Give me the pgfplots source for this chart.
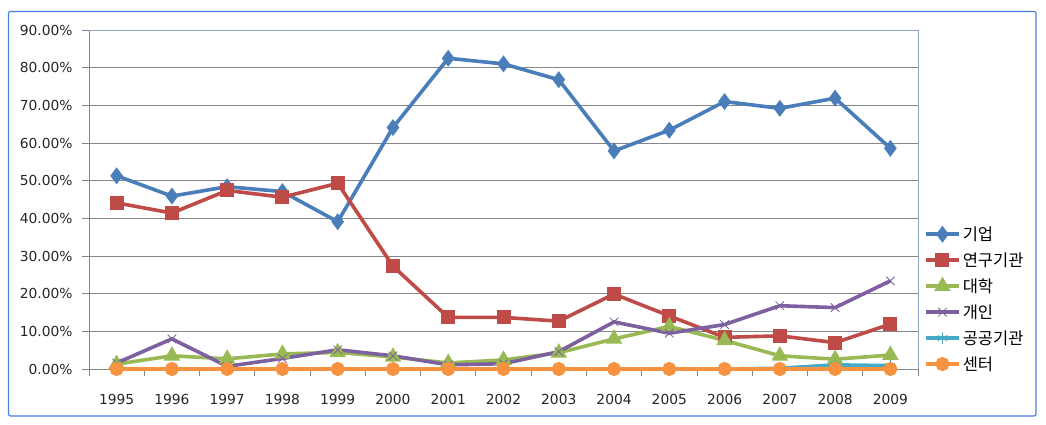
\documentclass[border=0pt]{standalone}
\usepackage{pgfplots}
\pgfplotsset{compat=1.18}
\usepackage{fontspec}
\setmainfont{Noto Sans CJK KR}
\newfontfamily\numfont{DejaVu Sans}
\definecolor{cA}{HTML}{4A7EBB}
\definecolor{cB}{HTML}{BE4B48}
\definecolor{cC}{HTML}{98B954}
\definecolor{cD}{HTML}{7D60A0}
\definecolor{cE}{HTML}{46AAC5}
\definecolor{cF}{HTML}{F69240}
\definecolor{gridc}{HTML}{868686}
\definecolor{plotframe}{HTML}{8EA4C8}
\definecolor{frameblue}{HTML}{4A7EE0}
\tikzset{ser/.style={line width=3.6pt, mark options={solid, line width=0.8pt}}}
\begin{document}
\begin{tikzpicture}
\path[use as bounding box] (-89pt,-56pt) rectangle (957pt,369pt);
\draw[frameblue, line width=1.2pt, rounded corners=2pt] (-80.5pt,-47pt) rectangle (947pt,357.5pt);
\begin{axis}[
  at={(0,0)}, anchor=south west,
  scale only axis, width=829pt, height=339pt,
  xmin=-0.5, xmax=14.5, ymin=0, ymax=90,
  xtick={-0.5,0.5,...,14.5}, xticklabels={},
  extra x ticks={0,1,2,3,4,5,6,7,8,9,10,11,12,13,14},
  extra x tick labels={1995,1996,1997,1998,1999,2000,2001,2002,2003,2004,2005,2006,2007,2008,2009},
  extra x tick style={major tick length=0pt, grid=none, xticklabel style={yshift=-22pt}},
  ytick={0,10,...,90},
  yticklabel={\pgfmathprintnumber[fixed,fixed zerofill,precision=2]{\tick}\%},
  /pgf/number format/assume math mode=true,
  tick label style={font=\numfont\fontsize{13.8}{16}\selectfont, text=black!85},
  yticklabel style={xshift=-6pt},
  tick align=outside, tick pos=left,
  major tick length=7pt,
  tick style={gridc, line width=0.8pt},
  ymajorgrids, grid style={gridc, line width=0.8pt},
  axis line style={draw=none},
  clip=false,
  legend style={at={(1.0084,0.206)}, anchor=west, xshift=-4pt, draw=none, fill=none,
    font=\fontsize{16.5}{19}\selectfont, row sep=6.8pt,
    /tikz/every even column/.append style={column sep=1pt}},
  legend cell align=left,
  legend image code/.code={\draw[mark repeat=2,mark phase=2,#1] plot coordinates {(0pt,0pt) (16.5pt,0pt) (33pt,0pt)};},
]
\draw[gridc, line width=0.8pt] (rel axis cs:0,0) -- (rel axis cs:0,1);
\draw[gridc, line width=0.8pt] (rel axis cs:0,0) -- (rel axis cs:1,0);
\draw[plotframe, line width=0.9pt] (rel axis cs:0,1) -- (rel axis cs:1,1) -- (rel axis cs:1,0);
\addplot[ser, cA, mark=diamond*, mark size=5.5pt, mark options={fill=cA}] coordinates {
(0,51.3) (1,45.9) (2,48.4) (3,47.1) (4,39.1) (5,64.1) (6,82.5) (7,81.0) (8,76.8) (9,57.9) (10,63.4) (11,71.0) (12,69.2) (13,71.9) (14,58.6)};
\addlegendentry{기업}
\addplot[ser, cB, mark=square*, mark size=5.2pt, mark options={fill=cB}] coordinates {
(0,44.1) (1,41.4) (2,47.4) (3,45.6) (4,49.3) (5,27.3) (6,13.7) (7,13.7) (8,12.7) (9,19.9) (10,14.1) (11,8.4) (12,8.8) (13,7.0) (14,11.9)};
\addlegendentry{연구기관}
\addplot[ser, cC, mark=triangle*, mark size=6pt, mark options={fill=cC}] coordinates {
(0,1.3) (1,3.5) (2,2.7) (3,4.0) (4,4.4) (5,3.2) (6,1.6) (7,2.4) (8,4.3) (9,8.0) (10,11.3) (11,7.6) (12,3.5) (13,2.6) (14,3.7)};
\addlegendentry{대학}
\addplot[ser, cD, mark=x, mark size=6pt] coordinates {
(0,1.6) (1,8.0) (2,0.7) (3,2.8) (4,5.1) (5,3.5) (6,1.1) (7,1.4) (8,4.6) (9,12.5) (10,9.5) (11,11.8) (12,16.8) (13,16.3) (14,23.4)};
\addlegendentry{개인}
\addplot[ser, cE, mark=asterisk, mark size=5.5pt] coordinates {
(0,0) (1,0) (2,0) (3,0) (4,0) (5,0) (6,0) (7,0) (8,0) (9,0) (10,0) (11,0) (12,0.2) (13,1.1) (14,0.9)};
\addlegendentry{공공기관}
\addplot[ser, cF, mark=*, mark size=5.2pt, mark options={fill=cF}] coordinates {
(0,0) (1,0) (2,0) (3,0) (4,0) (5,0) (6,0) (7,0) (8,0) (9,0) (10,0) (11,0) (12,0) (13,0) (14,0)};
\addlegendentry{센터}
\end{axis}
\end{tikzpicture}
\end{document}
